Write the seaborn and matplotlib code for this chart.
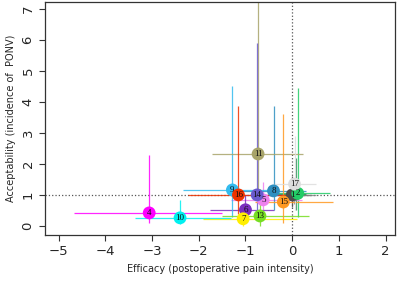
import pandas as pd
import numpy as np
import matplotlib
matplotlib.use('Agg')
import matplotlib.pyplot as plt
import seaborn as sns

# valores
ids = [str(i) for i in range(1, 18)]
efficacy = [0.0, 0.12, 0.03, -3.06, -0.62, -1.0, -1.05, -0.4, -1.28,
            -2.4, -0.73, 0.08, -0.69, -0.75, -0.19, -1.15, 0.05]
acceptability = [1.0, 1.05, 1.0, 0.42, 0.84, 0.52, 0.23, 1.13, 1.16,
                 0.26, 2.32, 1.04, 0.32, 1.0, 0.77, 1.0, 1.35]
x_low = [-0.3, -0.3, -0.2, -4.67, -1.3, -1.75, -1.9, -1.1, -2.33,
         -3.36, -1.71, -0.5, -1.5, -1.3, -0.8, -2.22, -0.4]
x_high = [0.4, 0.8, 0.5, -1.5, 0.2, -0.4, 0.1, 0.3, -0.3,
          -1.3, 0.24, 0.3, 0.35, -0.2, 0.88, 0.0, 0.5]
y_low = [0.6, 0.3, 0.7, 0.1, 0.4, 0.2, 0.0, 0.5, 0.3,
         0.05, 0.9, 0.5, 0.0, 0.2, 0.1, 0.4, 0.5]
y_high = [1.6, 4.45, 1.3, 2.3, 1.4, 1.0, 0.5, 3.85, 4.5,
          0.85, 7.5, 2.2, 1.2, 5.9, 3.6, 3.85, 2.9]
cores = ['#4d4d4d', '#22cc66', '#888888', '#ff00ff', '#ee82ee', '#7b2fbe',
         '#ffee00', '#2f8fc0', '#33bbee', '#00f0f0', '#a8a46a', '#2e8b57',
         '#77dd22', '#6a5acd', '#ff9922', '#ee3300', '#dddddd']
# rótulos escondidos atrás de outros pontos no original
ocultos = ['3', '12']

df = pd.DataFrame({'id': ids, 'Efficacy': efficacy, 'Acceptability': acceptability,
                   'xl': x_low, 'xh': x_high, 'yl': y_low, 'yh': y_high})

sns.set_style('ticks')
fig = plt.figure(figsize=(4, 2.82), dpi=100)
ax = fig.add_axes([0.1125, 0.167, 0.875, 0.826])

# barras de erro
for i, r in df.iterrows():
    ax.hlines(r['Acceptability'], r['xl'], r['xh'], color=cores[i], lw=0.9, alpha=0.85, zorder=2)
    ax.vlines(r['Efficacy'], r['yl'], r['yh'], color=cores[i], lw=0.9, alpha=0.85, zorder=2)

ax.axhline(1, color='#555555', ls=':', lw=0.9, zorder=1)
ax.axvline(0, color='#555555', ls=':', lw=0.9, zorder=1)

ordem = df[df['id'].isin(ocultos)].index.tolist() + df[~df['id'].isin(ocultos)].index.tolist()
sns.scatterplot(data=df.loc[ordem], x='Efficacy', y='Acceptability', hue='id',
                hue_order=ids, palette=cores, s=85, edgecolor='none', legend=False,
                ax=ax, zorder=3)
for i, r in df.iterrows():
    if r['id'] in ocultos:
        continue
    ax.text(r['Efficacy'], r['Acceptability'], r['id'], fontsize=6.5,
            family='Liberation Serif', ha='center', va='center', color='#111111', zorder=4)

ax.set_xlim(-5.29, 2.2)
ax.set_ylim(-0.29, 7.22)
ax.set_xticks(range(-5, 3))
ax.set_yticks(range(0, 8))
ax.tick_params(labelsize=9.5, length=4, color='#333333')
for lab in ax.get_yticklabels():
    lab.set_rotation(90)
    lab.set_va('center')
ax.set_xlabel('Efficacy (postoperative pain intensity)', fontsize=7)
ax.set_ylabel('Acceptability (incidence of  PONV)', fontsize=7)
for s in ax.spines.values():
    s.set_color('#333333')
    s.set_linewidth(0.9)

plt.savefig('out.png', dpi=100)
